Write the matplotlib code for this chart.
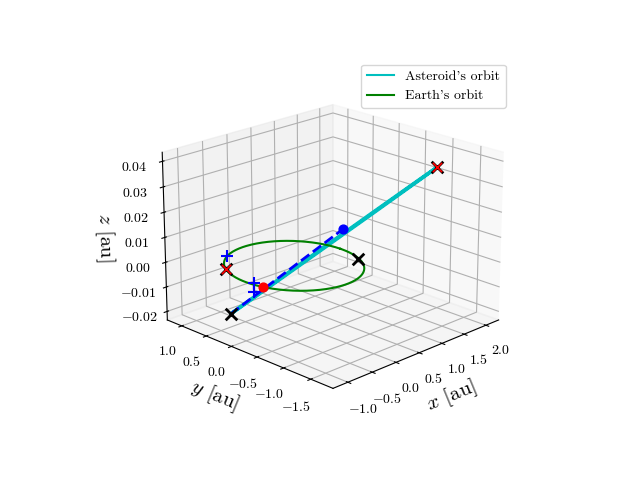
import numpy as np
import matplotlib
matplotlib.use("Agg")
import matplotlib.pyplot as plt
from matplotlib.lines import Line2D

plt.rcParams['font.family'] = 'serif'
plt.rcParams['font.serif'] = ['cmr10']
plt.rcParams['mathtext.fontset'] = 'cm'
plt.rcParams['axes.formatter.use_mathtext'] = True

# asteroid orbit end points (near, far) and thin half-width
ast_near = [-0.68, 0.62, -0.02]
ast_far = [1.38, -1.45, 0.04]
ast_halfwidth = 0.02
earth_radius = 1.0

black_x = [[-0.68, 0.62, -0.02], [0.89, -0.44, 0.0], [-0.85, 0.52, 0.0], [1.38, -1.45, 0.04]]
red_x = [[-0.85, 0.52, 0.0], [1.38, -1.45, 0.04]]
blue_plus = [[-0.45, 0.89, 0.0], [-0.93, -0.10, 0.0], [-1.18, -0.34, 0.0]]
red_dot = [-0.95, -0.30, 0.0]
blue_dot = [0.57, -0.42, 0.0136]

fig = plt.figure(figsize=(6.4, 4.8), dpi=100)
ax = fig.add_subplot(projection='3d')

t = np.linspace(0, 2*np.pi, 400)
A = np.array(ast_near); B = np.array(ast_far)
c = (A + B)/2; u = (B - A)/2
perp = np.array([0.707, 0.707, 0.0]) * ast_halfwidth
pts = c[:, None] + u[:, None]*np.cos(t) + perp[:, None]*np.sin(t)
ax.plot(pts[0], pts[1], pts[2], color='c', lw=2.5)
ax.plot(earth_radius*np.cos(t), earth_radius*np.sin(t), 0*t, color='g', lw=1.5)
ax.plot([A[0], blue_dot[0]], [A[1], blue_dot[1]], [A[2], blue_dot[2]], 'b--', lw=2)

for p in black_x:
    ax.scatter(*p, marker='x', color='k', s=70, linewidths=2, depthshade=False, zorder=5)
for p in red_x:
    ax.scatter(*p, marker='x', color='r', s=45, linewidths=1.2, depthshade=False, zorder=6)
for p in blue_plus:
    ax.scatter(*p, marker='+', color='b', s=70, linewidths=1.5, depthshade=False)
ax.scatter(*red_dot, color='r', s=40, depthshade=False)
ax.scatter(*blue_dot, color='b', s=40, depthshade=False)

ax.set_xlim(-1.3, 2.3)
ax.set_ylim(-1.9, 1.3)
ax.set_zlim(-0.0235, 0.0435)
ax.set_xticks([-1.0, -0.5, 0.0, 0.5, 1.0, 1.5, 2.0])
ax.set_yticks([-1.5, -1.0, -0.5, 0.0, 0.5, 1.0])
ax.set_zticks([-0.02, -0.01, 0.0, 0.01, 0.02, 0.03, 0.04])
ax.set_xlabel(r'$x$ [au]', fontsize=15)
ax.set_ylabel(r'$y$ [au]', fontsize=15)
ax.set_zlabel(r'$z$ [au]', fontsize=15)
ax.view_init(elev=20, azim=-135)
handles = [Line2D([], [], color='c', lw=1.5), Line2D([], [], color='g', lw=1.5)]
ax.legend(handles, ["Asteroid's orbit", "Earth's orbit"], loc='upper right')
fig.savefig('out.png')
